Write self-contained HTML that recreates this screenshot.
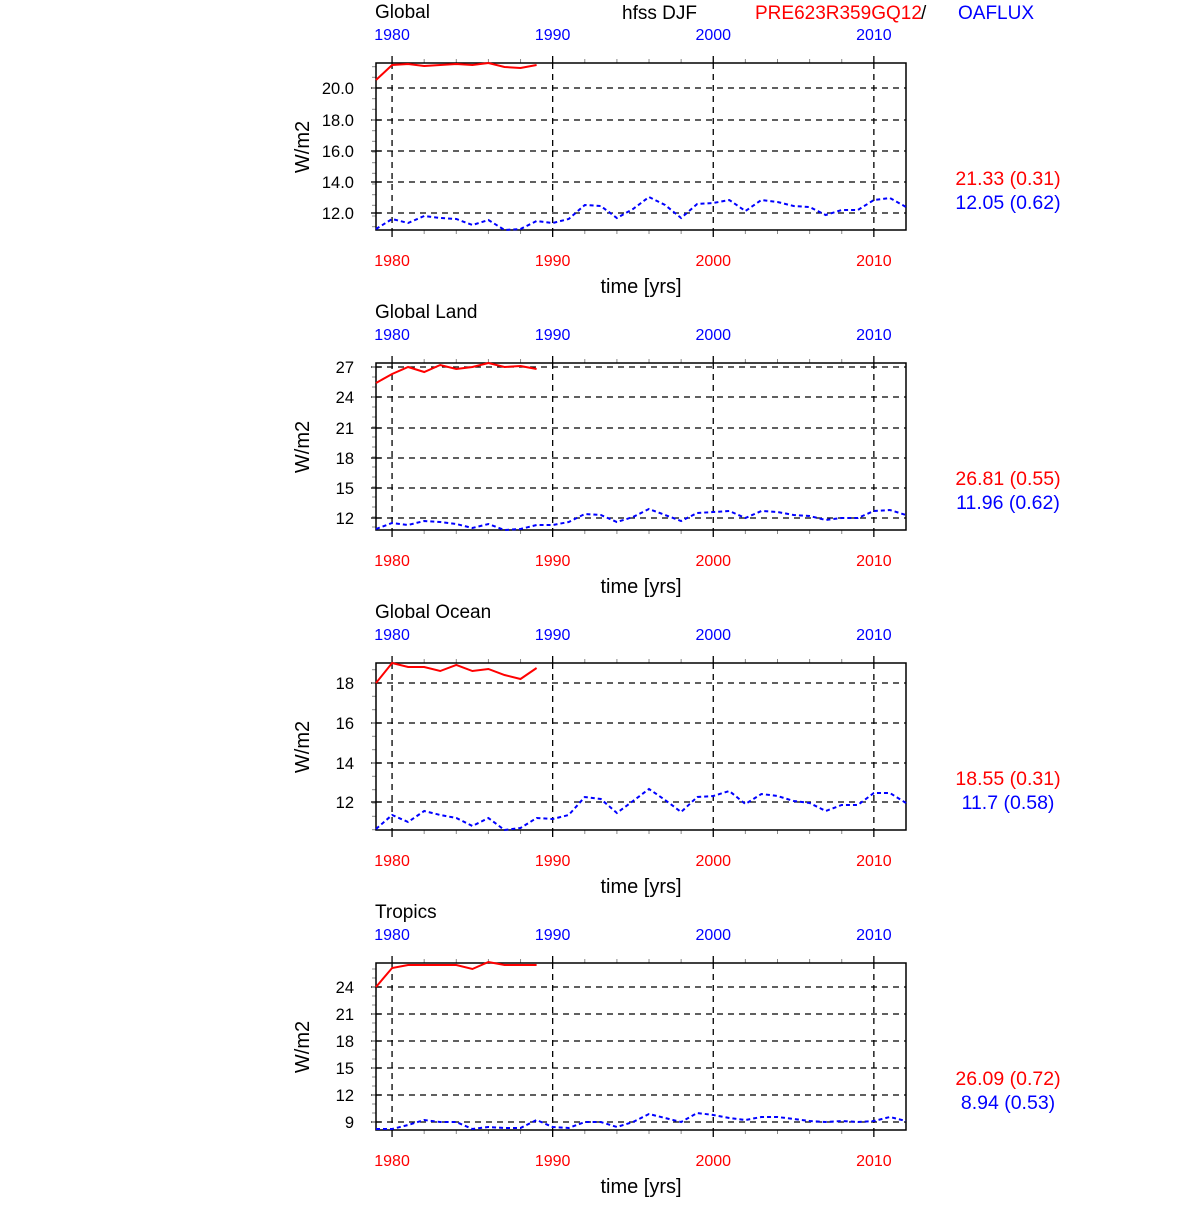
<!DOCTYPE html>
<html><head><meta charset="utf-8"><style>
body{margin:0;background:#fff;}
svg text{font-family:"Liberation Sans",sans-serif;}
</style></head><body>
<svg id="s" width="1200" height="1200" xmlns="http://www.w3.org/2000/svg"></svg>
<script>
var s=document.getElementById('s'),h='';
var X0=376,X1=906,dx=16.06;
function xv(i){return X0+i*dx;}
var panels=[
{top:63,title:'Global',yt:[[88,'20.0'],[120,'18.0'],[151,'16.0'],[182,'14.0'],[213,'12.0']],
red:[80,65,64,66,65,64,65,63,67,68,65],
blue:[229,219,223,216,218,219,225,220,230,229,221,223,219,205,206,218,209,197,205,218,204,203,200,211,200,202,206,207,215,210,210,200,198,207],
r1:'21.33 (0.31)',r2:'12.05 (0.62)'},
{top:363,title:'Global Land',yt:[[367,'27'],[397,'24'],[428,'21'],[458,'18'],[488,'15'],[518,'12']],
red:[383,374,367,372,365,369,367,363,367,366,369],
blue:[529,523,525,521,522,524,528,524,530,529,525,525,522,514,515,522,517,509,515,521,513,512,511,518,511,512,515,516,520,518,518,511,510,515],
r1:'26.81 (0.55)',r2:'11.96 (0.62)'},
{top:663,title:'Global Ocean',yt:[[683,'18'],[723,'16'],[763,'14'],[802,'12']],
red:[683,663,667,667,671,665,671,669,675,679,668],
blue:[829,815,822,811,815,818,826,818,830,828,818,819,815,797,799,813,801,789,800,812,797,796,791,804,794,796,801,803,811,805,805,793,793,803],
r1:'18.55 (0.31)',r2:'11.7 (0.58)'},
{top:963,title:'Tropics',yt:[[987,'24'],[1014,'21'],[1041,'18'],[1068,'15'],[1095,'12'],[1122,'9']],
red:[987,968,965,965,965,965,969,962,965,965,965],
blue:[1129,1129,1125,1120,1122,1122,1129,1127,1128,1128,1120,1127,1128,1122,1122,1127,1122,1114,1118,1122,1113,1115,1118,1120,1117,1117,1119,1121,1122,1121,1122,1121,1117,1121],
r1:'26.09 (0.72)',r2:'8.94 (0.53)'}];
h+='<text x="622" y="19" font-size="19">hfss DJF</text>';
h+='<text x="755" y="19" font-size="19" fill="#f00">PRE623R359GQ12</text><text x="921" y="19" font-size="19">/</text>';
h+='<text x="958" y="19" font-size="19" fill="#00f">OAFLUX</text>';
panels.forEach(function(p){
 var T=p.top,B=T+167;
 if(p.title!='Global')h+='<text x="375" y="'+(T-45)+'" font-size="19">'+p.title+'</text>';
 else h+='<text x="375" y="18" font-size="19">Global</text>';
 [1,11,21,31].forEach(function(i){var x=xv(i);
  h+='<line x1="'+x+'" y1="'+T+'" x2="'+x+'" y2="'+B+'" stroke="#000" stroke-dasharray="6,5" stroke-width="1.3"/>';
  h+='<line x1="'+x+'" y1="'+(T-7)+'" x2="'+x+'" y2="'+T+'" stroke="#000" stroke-width="1.3"/>';
  h+='<line x1="'+x+'" y1="'+B+'" x2="'+x+'" y2="'+(B+7)+'" stroke="#000" stroke-width="1.3"/>';
  var yr=1979+i;
  h+='<text x="'+x+'" y="'+(T-23)+'" font-size="16" fill="#00f" text-anchor="middle">'+yr+'</text>';
  h+='<text x="'+x+'" y="'+(B+36)+'" font-size="16" fill="#f00" text-anchor="middle">'+yr+'</text>';
 });
 for(var i=3;i<33;i+=2){if((i-1)%10==0)continue;var x=xv(i);
  h+='<line x1="'+x+'" y1="'+(T-4)+'" x2="'+x+'" y2="'+T+'" stroke="#888"/>';
  h+='<line x1="'+x+'" y1="'+B+'" x2="'+x+'" y2="'+(B+4)+'" stroke="#888"/>';}
 var sp=p.yt[1][0]-p.yt[0][0];
 p.yt.forEach(function(t){var y=t[0];
  h+='<line x1="'+X0+'" y1="'+y+'" x2="'+X1+'" y2="'+y+'" stroke="#000" stroke-dasharray="6,5" stroke-width="1.3"/>';
  h+='<line x1="'+(X0-5)+'" y1="'+y+'" x2="'+(X0+5)+'" y2="'+y+'" stroke="#000" stroke-width="1.3"/>';
  h+='<text x="'+(X0-22)+'" y="'+(y+6)+'" font-size="16.5" text-anchor="end">'+t[1]+'</text>';
 });
 for(var y=p.yt[0][0]-sp;y<B+sp;y+=sp/3){if(y>T&&y<B)h+='<line x1="'+(X0-4)+'" y1="'+y.toFixed(1)+'" x2="'+X0+'" y2="'+y.toFixed(1)+'" stroke="#888"/>';}
 h+='<rect x="'+X0+'" y="'+T+'" width="'+(X1-X0)+'" height="167" fill="none" stroke="#000" stroke-width="1.5"/>';
 h+='<polyline fill="none" stroke="#f00" stroke-width="2" points="'+p.red.map(function(v,i){return xv(i).toFixed(1)+','+v}).join(' ')+'"/>';
 h+='<polyline fill="none" stroke="#00f" stroke-width="2" stroke-dasharray="4,3" points="'+p.blue.map(function(v,i){return Math.min(xv(i),X1).toFixed(1)+','+v}).join(' ')+'"/>';
 h+='<text x="641" y="'+(B+63)+'" font-size="20" text-anchor="middle">time [yrs]</text>';
 var cy=T+84;
 h+='<text transform="translate(309,'+cy+') rotate(-90)" font-size="20" text-anchor="middle">W/m2</text>';
 h+='<text x="1008" y="'+(T+122)+'" font-size="19.5" fill="#f00" text-anchor="middle">'+p.r1+'</text>';
 h+='<text x="1008" y="'+(T+146)+'" font-size="19.5" fill="#00f" text-anchor="middle">'+p.r2+'</text>';
});
s.innerHTML=h;
</script>
</body></html>
